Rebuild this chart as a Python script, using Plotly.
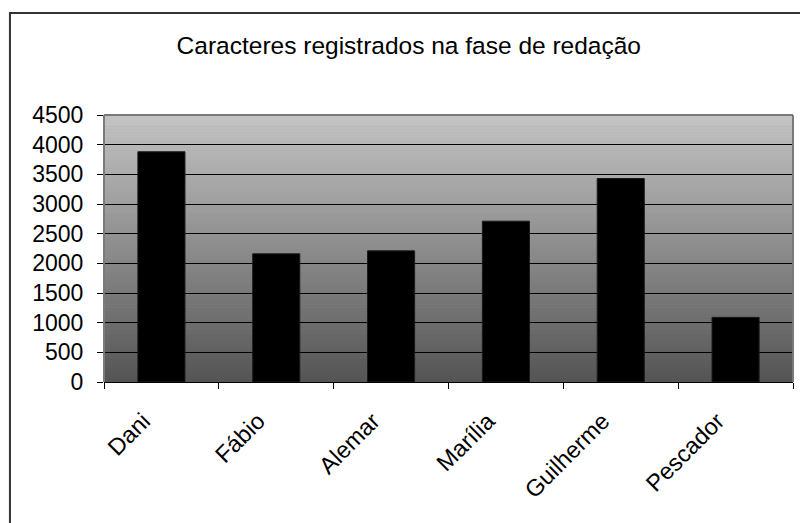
import plotly.graph_objects as go

# Characters recorded per participant during the writing phase
nomes = ["Dani", "Fábio", "Alemar", "Marília", "Guilherme", "Pescador"]
caracteres = [3880, 2160, 2210, 2710, 3430, 1090]
y_ticks = [0, 500, 1000, 1500, 2000, 2500, 3000, 3500, 4000, 4500]

FONT = "Liberation Sans, Arial, sans-serif"

fig = go.Figure(
    go.Bar(
        x=nomes,
        y=caracteres,
        marker=dict(color="#000000", line=dict(color="#1a1a1a", width=1)),
        width=0.41,
        hoverinfo="x+y",
    )
)

# Vertical grey gradient behind the bars (light at the top, dark at the bottom)
shapes = []
n_steps = 90
top_rgb = (196, 196, 196)
bot_rgb = (84, 84, 84)
for i in range(n_steps):
    t = (i + 0.5) / n_steps
    c = tuple(round(b + (tp - b) * t) for b, tp in zip(bot_rgb, top_rgb))
    shapes.append(dict(
        type="rect", xref="x domain", yref="y domain",
        x0=0, x1=1, y0=i / n_steps, y1=min(1, (i + 1.15) / n_steps),
        fillcolor=f"rgb{c}", line=dict(width=0), layer="below",
    ))

# Grey frame on the top, right and left of the plotting area
for x0, y0, x1, y1 in [(0, 1, 1, 1), (1, 0, 1, 1), (0, 0, 0, 1)]:
    shapes.append(dict(
        type="line", xref="x domain", yref="y domain",
        x0=x0, y0=y0, x1=x1, y1=y1,
        line=dict(color="#7a7a7a", width=2), layer="above",
    ))

# Outer chart border
shapes.append(dict(
    type="rect", xref="paper", yref="paper",
    x0=-0.1365, y0=-0.7, x1=1.1, y1=1.382,
    line=dict(color="#333333", width=2), fillcolor="rgba(0,0,0,0)",
    layer="below",
))

fig.update_layout(
    width=800,
    height=523,
    margin=dict(l=104, r=7, t=115, b=141),
    paper_bgcolor="#ffffff",
    plot_bgcolor="#8c8c8c",
    showlegend=False,
    font=dict(family=FONT, color="#000000", size=23),
    title=dict(
        text="Caracteres registrados na fase de redação",
        x=0.511, xanchor="center",
        y=1 - 45 / 523, yanchor="middle",
        font=dict(family=FONT, size=24.5, color="#000000"),
    ),
    shapes=shapes,
    xaxis=dict(
        type="category",
        tickangle=-45,
        tickson="boundaries",
        ticks="outside",
        ticklen=6,
        tickcolor="#000000",
        showline=True,
        linecolor="#000000",
        linewidth=1,
        showgrid=False,
        ticklabelstandoff=15,
        ticklabelshift=-18,
        tickfont=dict(family=FONT, size=23.5, color="#000000"),
    ),
    yaxis=dict(
        range=[0, 4500],
        tickvals=y_ticks,
        ticktext=[str(v) for v in y_ticks],
        ticks="outside",
        ticklen=6,
        tickcolor="#000000",
        showline=False,
        showgrid=True,
        gridcolor="#000000",
        gridwidth=1,
        zeroline=False,
        ticklabelstandoff=9,
        tickfont=dict(family=FONT, size=23, color="#000000"),
    ),
)

fig.write_html("out.html")
